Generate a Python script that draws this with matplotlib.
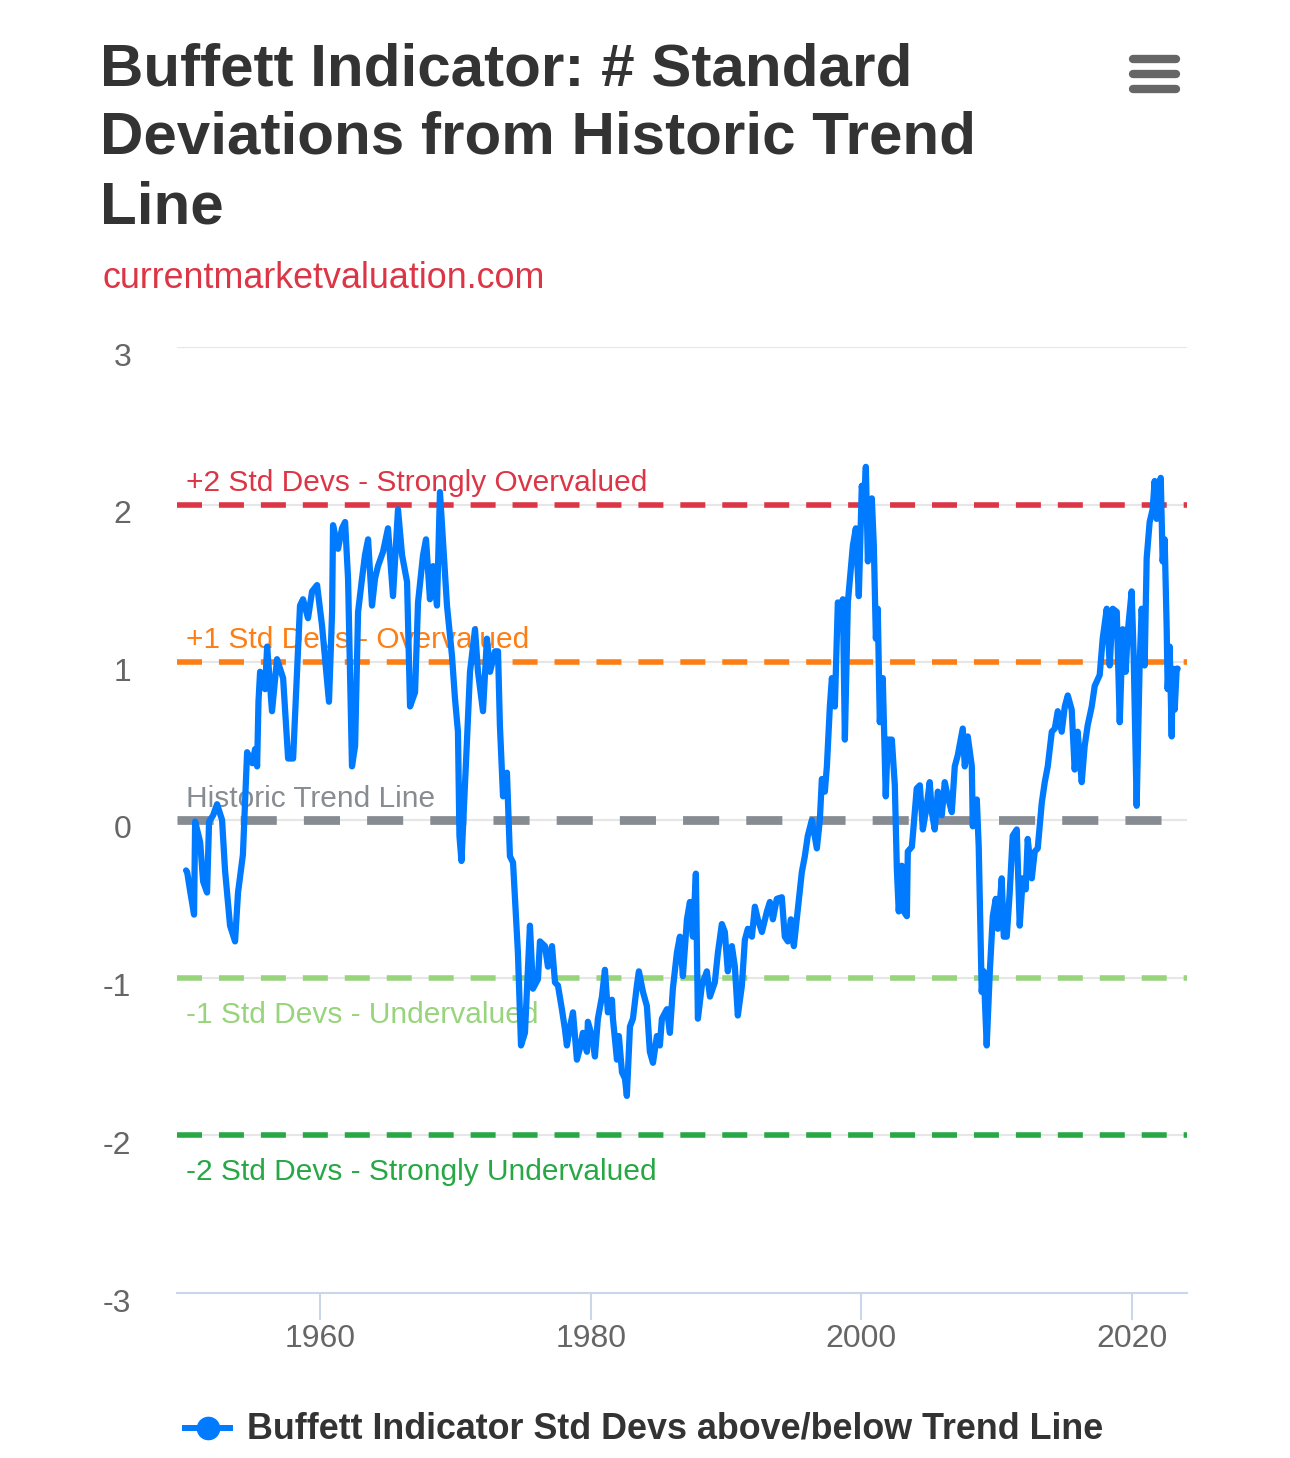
import matplotlib
matplotlib.use("Agg")
import matplotlib.pyplot as plt
from matplotlib.lines import Line2D
from matplotlib.transforms import ScaledTranslation

plt.rcParams["font.family"] = ["Liberation Sans", "DejaVu Sans"]
plt.rcParams["lines.scale_dashes"] = False

TITLE_LINES = ["Buffett Indicator: # Standard", "Deviations from Historic Trend", "Line"]
SUBTITLE = "currentmarketvaluation.com"
SERIES_NAME = "Buffett Indicator Std Devs above/below Trend Line"

# (year, std devs from trend)
YEARS = [
    1950.10, 1950.18, 1950.40, 1950.69, 1950.77, 1951.14, 1951.36, 1951.65, 1951.80, 1952.10,
    1952.39, 1952.76, 1952.98, 1953.35, 1953.72, 1953.94, 1954.30, 1954.61, 1955.00, 1955.20,
    1955.35, 1955.45, 1955.57, 1955.94, 1956.09, 1956.45, 1956.82, 1957.27, 1957.64, 1958.01,
    1958.30, 1958.52, 1958.74, 1959.11, 1959.41, 1959.78, 1960.15, 1960.37, 1960.66, 1960.89,
    1960.96, 1961.33, 1961.62, 1961.85, 1962.07, 1962.36, 1962.59, 1962.81, 1963.10, 1963.32,
    1963.55, 1963.84, 1964.06, 1964.28, 1964.65, 1965.02, 1965.39, 1965.76, 1966.06, 1966.43,
    1966.65, 1967.02, 1967.24, 1967.61, 1967.83, 1968.12, 1968.35, 1968.64, 1968.86, 1969.08,
    1969.38, 1969.75, 1969.97, 1970.19, 1970.30, 1970.45, 1970.86, 1971.08, 1971.45, 1971.67,
    1972.04, 1972.33, 1972.56, 1972.93, 1973.15, 1973.29, 1973.52, 1973.81, 1974.03, 1974.26,
    1974.62, 1974.85, 1975.14, 1975.51, 1975.73, 1976.10, 1976.25, 1976.62, 1976.84, 1977.14,
    1977.36, 1977.58, 1977.87, 1978.10, 1978.24, 1978.47, 1978.69, 1978.98, 1979.20, 1979.42,
    1979.72, 1979.79, 1980.09, 1980.31, 1980.53, 1980.83, 1981.05, 1981.27, 1981.57, 1981.64,
    1981.94, 1982.08, 1982.31, 1982.53, 1982.67, 1982.90, 1983.12, 1983.41, 1983.56, 1983.86,
    1984.15, 1984.37, 1984.60, 1984.89, 1985.11, 1985.26, 1985.63, 1985.85, 1986.07, 1986.37,
    1986.59, 1986.81, 1987.11, 1987.33, 1987.55, 1987.77, 1987.92, 1988.21, 1988.58, 1988.81,
    1989.17, 1989.40, 1989.69, 1989.91, 1990.13, 1990.43, 1990.65, 1990.87, 1991.17, 1991.39,
    1991.61, 1991.91, 1992.13, 1992.35, 1992.65, 1993.02, 1993.24, 1993.46, 1993.75, 1994.12,
    1994.34, 1994.57, 1994.79, 1995.01, 1995.31, 1995.60, 1995.82, 1996.04, 1996.34, 1996.71,
    1996.93, 1997.08, 1997.30, 1997.45, 1997.67, 1997.82, 1998.04, 1998.26, 1998.56, 1998.63,
    1998.78, 1999.00, 1999.22, 1999.37, 1999.59, 1999.81, 2000.03, 2000.18, 2000.33, 2000.48,
    2000.77, 2000.92, 2001.07, 2001.21, 2001.36, 2001.58, 2001.80, 2001.95, 2002.25, 2002.47,
    2002.62, 2002.76, 2002.99, 2003.13, 2003.36, 2003.43, 2003.73, 2003.80, 2004.09, 2004.32,
    2004.54, 2004.83, 2005.05, 2005.20, 2005.42, 2005.65, 2005.94, 2006.16, 2006.38, 2006.68,
    2006.90, 2007.12, 2007.49, 2007.64, 2007.86, 2008.16, 2008.23, 2008.53, 2008.67, 2008.89,
    2009.04, 2009.26, 2009.49, 2009.71, 2009.93, 2010.08, 2010.37, 2010.52, 2010.74, 2010.96,
    2011.18, 2011.48, 2011.70, 2011.92, 2012.14, 2012.29, 2012.59, 2012.81, 2013.03, 2013.33,
    2013.55, 2013.77, 2014.07, 2014.29, 2014.51, 2014.80, 2015.03, 2015.25, 2015.54, 2015.76,
    2015.98, 2016.28, 2016.50, 2016.72, 2017.02, 2017.24, 2017.61, 2017.83, 2018.13, 2018.35,
    2018.57, 2018.87, 2019.09, 2019.31, 2019.53, 2019.68, 2019.97, 2020.12, 2020.34, 2020.56,
    2020.71, 2020.93, 2021.08, 2021.30, 2021.52, 2021.67, 2021.82, 2021.97, 2022.12, 2022.26,
    2022.41, 2022.56, 2022.63, 2022.78, 2022.93, 2023.00, 2023.15, 2023.30, 2023.37,
]
STD_DEVS = [
    -0.32, -0.33, -0.45, -0.60, -0.01, -0.14, -0.39, -0.46, -0.01, 0.03,
    0.10, 0.00, -0.32, -0.67, -0.77, -0.46, -0.22, 0.43, 0.36, 0.45,
    0.34, 0.75, 0.94, 0.83, 1.10, 0.69, 1.02, 0.90, 0.39, 0.39,
    0.94, 1.36, 1.40, 1.28, 1.45, 1.49, 1.23, 1.02, 0.75, 1.32,
    1.87, 1.72, 1.85, 1.89, 1.53, 0.34, 0.47, 1.32, 1.53, 1.68,
    1.78, 1.36, 1.53, 1.61, 1.70, 1.85, 1.42, 1.97, 1.68, 1.51,
    0.72, 0.81, 1.38, 1.68, 1.78, 1.40, 1.61, 1.36, 2.08, 1.78,
    1.36, 1.04, 0.77, 0.56, -0.10, -0.26, 0.51, 0.94, 1.21, 0.94,
    0.69, 1.15, 0.94, 1.07, 1.07, 0.60, 0.15, 0.30, -0.23, -0.27,
    -0.84, -1.43, -1.35, -0.67, -1.07, -1.01, -0.77, -0.80, -0.93, -0.80,
    -1.03, -1.05, -1.20, -1.33, -1.43, -1.31, -1.22, -1.52, -1.45, -1.35,
    -1.47, -1.28, -1.37, -1.50, -1.26, -1.12, -0.95, -1.22, -1.14, -1.26,
    -1.52, -1.37, -1.60, -1.64, -1.75, -1.31, -1.26, -1.05, -0.96, -1.09,
    -1.18, -1.47, -1.54, -1.37, -1.43, -1.26, -1.20, -1.35, -1.07, -0.84,
    -0.74, -0.99, -0.63, -0.52, -0.74, -0.34, -1.26, -1.05, -0.96, -1.12,
    -1.03, -0.84, -0.66, -0.71, -0.96, -0.80, -0.93, -1.24, -1.05, -0.76,
    -0.69, -0.74, -0.55, -0.63, -0.71, -0.58, -0.52, -0.63, -0.50, -0.49,
    -0.74, -0.77, -0.63, -0.80, -0.56, -0.33, -0.23, -0.10, 0.00, -0.18,
    0.00, 0.26, 0.18, 0.34, 0.72, 0.90, 0.72, 1.38, 1.36, 1.40,
    0.51, 1.38, 1.59, 1.74, 1.85, 1.42, 2.12, 1.99, 2.24, 1.64,
    2.04, 1.74, 1.15, 1.34, 0.62, 0.90, 0.15, 0.51, 0.51, 0.22,
    -0.31, -0.58, -0.29, -0.58, -0.61, -0.20, -0.17, -0.10, 0.20, 0.22,
    -0.06, 0.09, 0.24, 0.05, -0.06, 0.18, 0.03, 0.24, 0.15, 0.05,
    0.34, 0.41, 0.58, 0.34, 0.53, 0.34, -0.04, 0.13, -0.17, -1.09,
    -0.96, -1.43, -0.96, -0.61, -0.50, -0.69, -0.37, -0.74, -0.74, -0.46,
    -0.10, -0.06, -0.67, -0.37, -0.44, -0.12, -0.37, -0.20, -0.18, 0.11,
    0.24, 0.34, 0.56, 0.58, 0.69, 0.56, 0.72, 0.79, 0.70, 0.32,
    0.56, 0.24, 0.47, 0.60, 0.72, 0.85, 0.92, 1.15, 1.34, 0.98,
    1.34, 1.32, 0.62, 1.21, 0.94, 1.19, 1.45, 1.04, 0.09, 0.98,
    1.34, 0.98, 1.66, 1.89, 1.97, 2.15, 1.91, 2.10, 2.17, 1.64,
    1.78, 1.21, 0.83, 1.10, 0.53, 0.96, 0.70, 0.96, 0.96,
]

BAND_VALUES = [2, 1, 0, -1, -2]
BAND_LABELS = [
    "+2 Std Devs - Strongly Overvalued",
    "+1 Std Devs - Overvalued",
    "Historic Trend Line",
    "-1 Std Devs - Undervalued",
    "-2 Std Devs - Strongly Undervalued",
]
BAND_COLORS = ["#dc3545", "#fd7e14", "#878c93", "#98d47c", "#28a745"]

Y_TICKS = [-3, -2, -1, 0, 1, 2, 3]
X_TICKS = [1960, 1980, 2000, 2020]

W, H = 1290, 1458
fig = plt.figure(figsize=(W / 100, H / 100), dpi=100)
fig.patch.set_facecolor("white")


def fx(px):
    return px / W


def fy(py):
    return 1 - py / H


ax = fig.add_axes([fx(177), fy(1293), fx(1187) - fx(177), fy(347) - fy(1293)])
ax.set_xlim(1949.43, 2024.06)
ax.set_ylim(-3, 3)

for v in Y_TICKS[1:]:
    ax.axhline(v, color="#e6e6e6", lw=1.5, zorder=1)

for val, label, color in zip(BAND_VALUES, BAND_LABELS, BAND_COLORS):
    if val == 0:
        ax.axhline(val, color=color, lw=6.3, dashes=(26, 19.5), zorder=2, solid_capstyle="butt")
        dy = 21
    else:
        ax.axhline(val, color=color, lw=4.0, dashes=(18, 12.2), zorder=2)
        dy = 22 if val > 0 else -37
    ax.annotate(label, xy=(0, val), xycoords=("axes fraction", "data"),
                xytext=(9, dy), textcoords="offset pixels", va="center", ha="left",
                color=color, fontsize=21.5, zorder=3)

ax.plot(YEARS, STD_DEVS, color="#007bff", lw=4.5, solid_joinstyle="round",
        solid_capstyle="round", zorder=5)

for side in ("top", "right", "left"):
    ax.spines[side].set_visible(False)
ax.spines["bottom"].set_color("#ccd6eb")
ax.spines["bottom"].set_linewidth(1.5)
ax.spines["bottom"].set_zorder(1)

ax.set_xticks(X_TICKS)
ax.set_xticklabels([str(t) for t in X_TICKS])
ax.tick_params(axis="x", length=19.5, width=1.5, color="#ccd6eb", pad=3,
               labelsize=23, labelcolor="#666666")
ax.set_yticks(Y_TICKS)
ax.set_yticklabels([str(t) for t in Y_TICKS])
ax.tick_params(axis="y", length=0, pad=33, labelsize=23, labelcolor="#666666")
for lab in ax.get_yticklabels():
    lab.set_transform(lab.get_transform() + ScaledTranslation(0, -0.07, fig.dpi_scale_trans))

# title block
for i, line in enumerate(TITLE_LINES):
    fig.text(fx(100), fy(85 + 69 * i), line, fontsize=43.3, fontweight="bold",
             color="#333333", va="baseline", ha="left")
fig.text(fx(102), fy(288), SUBTITLE, fontsize=25.8, color="#dc3545",
         va="baseline", ha="left")

# hamburger menu
for py in (59, 74, 89):
    fig.add_artist(Line2D([fx(1133), fx(1176)], [fy(py), fy(py)], transform=fig.transFigure,
                          color="#666666", lw=6, solid_capstyle="round"))

# legend
fig.add_artist(Line2D([fx(185), fx(230)], [fy(1428), fy(1428)], transform=fig.transFigure,
                      color="#007bff", lw=4.3))
fig.add_artist(Line2D([fx(207.5)], [fy(1428)], transform=fig.transFigure, marker="o",
                      markersize=16, color="#007bff", lw=0))
fig.text(fx(247), fy(1429), SERIES_NAME, fontsize=25.8, fontweight="bold",
         color="#333333", va="center", ha="left")

fig.savefig("out.png", dpi=100, facecolor="white")
